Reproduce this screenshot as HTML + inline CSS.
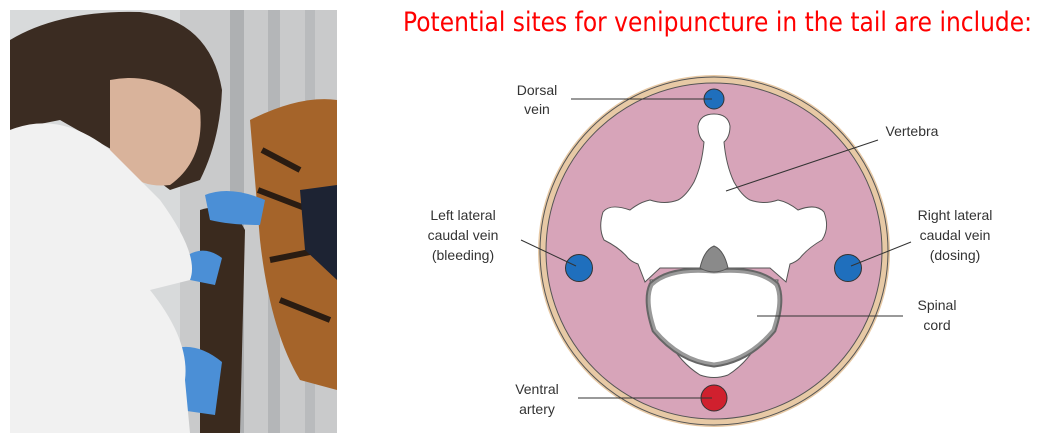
<!DOCTYPE html>
<html><head><meta charset="utf-8"><style>
html,body{margin:0;padding:0;background:#fff;width:1039px;height:441px;overflow:hidden}
</style></head><body>
<svg width="1039" height="441" viewBox="0 0 1039 441" xmlns="http://www.w3.org/2000/svg" font-family="Liberation Sans, sans-serif">
<g>
<rect x="10" y="10" width="327" height="423" fill="#d8dadb"/>
<rect x="180" y="10" width="157" height="423" fill="#c9cacb"/>
<rect x="230" y="10" width="14" height="423" fill="#aeb0b2"/>
<rect x="268" y="10" width="12" height="423" fill="#b4b6b8"/>
<rect x="305" y="10" width="10" height="423" fill="#b9bbbd"/>
<path d="M250 120 Q300 95 337 100 L337 390 L300 380 Q270 330 260 240 Z" fill="#a5642a"/>
<path d="M262 150 L300 170 M258 190 L310 210 M270 260 L320 250 M280 300 L330 320" stroke="#2a1c12" stroke-width="6"/>
<path d="M200 210 Q230 200 245 230 L240 433 L200 433 Z" fill="#3a2a1e"/>
<path d="M300 190 L337 185 L337 280 L305 250 Z" fill="#1d2333"/>
<path d="M205 195 Q230 185 265 200 L260 225 Q230 225 210 220 Z" fill="#4b8fd6"/>
<path d="M188 255 Q205 245 222 258 L215 285 L190 280 Z" fill="#4b8fd6"/>
<path d="M170 350 Q195 340 222 362 L215 415 L180 410 Z" fill="#4b8fd6"/>
<path d="M10 40 Q60 10 140 12 Q210 20 222 90 Q220 140 200 180 L170 190 L130 160 L60 120 L10 130 Z" fill="#3b2c22"/>
<path d="M110 80 Q160 70 200 110 Q205 160 170 185 Q130 190 110 150 Z" fill="#d9b39b"/>
<path d="M10 130 Q60 110 110 150 L160 200 Q200 255 190 280 L150 290 Q190 340 185 380 L190 433 L10 433 Z" fill="#f1f1f1"/>
</g>
<text x="403" y="31" font-size="27" fill="#ff0000" textLength="629" lengthAdjust="spacingAndGlyphs" font-family="DejaVu Sans, sans-serif">Potential sites for venipuncture in the tail are include:</text>
<circle cx="714" cy="251" r="176" fill="#e7c9a5"/>
<circle cx="714" cy="251" r="174" fill="none" stroke="#555" stroke-width="1"/>
<circle cx="714" cy="251" r="168" fill="#d7a4b9" stroke="#555" stroke-width="1"/>
<path d="M650 280 Q660 350 700 375 Q714 380 728 375 Q768 350 778 280 Z" fill="#fff" stroke="#555" stroke-width="1"/>
<path d="M714 114 Q700 114 698 126 Q698 137 704 142 Q702 165 694 182 Q686 196 678 200 Q665 205 650 200 Q640 202 630 210 Q610 203 603 212 Q598 228 604 240 Q620 248 628 258 Q632 262 638 264 L645 282 L660 268 L770 268 L786 282 L790 264 Q796 262 800 258 Q808 248 822 240 Q830 228 824 212 Q816 203 798 210 Q788 202 778 200 Q764 205 750 200 Q742 196 734 182 Q726 165 724 142 Q730 137 730 126 Q728 114 714 114 Z" fill="#fff" stroke="#555" stroke-width="1"/>
<path d="M714 272 Q670 268 652 285 Q645 300 655 330 Q680 360 714 364 Q748 360 773 330 Q783 300 776 285 Q758 268 714 272 Z" fill="#fff" stroke="#666" stroke-width="7"/>
<path d="M714 272 Q670 268 652 285 Q645 300 655 330 Q680 360 714 364 Q748 360 773 330 Q783 300 776 285 Q758 268 714 272 Z" fill="#fff" stroke="#999" stroke-width="3"/>
<path d="M700 268 Q704 250 714 246 Q724 250 728 268 Q714 276 700 268 Z" fill="#8a8a8a" stroke="#555" stroke-width="1"/>
<circle cx="714" cy="99" r="10" fill="#1f6fbd" stroke="#333" stroke-width="1"/>
<circle cx="579" cy="268" r="13.5" fill="#1f6fbd" stroke="#333" stroke-width="1"/>
<circle cx="848" cy="268" r="13.5" fill="#1f6fbd" stroke="#333" stroke-width="1"/>
<circle cx="714" cy="398" r="13" fill="#d0202e" stroke="#333" stroke-width="1"/>
<g stroke="#333" stroke-width="1">
<line x1="571" y1="99" x2="712" y2="99"/>
<line x1="878" y1="140" x2="726" y2="191"/>
<line x1="521" y1="240" x2="576" y2="266"/>
<line x1="911" y1="242" x2="851" y2="266"/>
<line x1="757" y1="316" x2="903" y2="316"/>
<line x1="578" y1="398" x2="712" y2="398"/>
</g>
<g font-size="14" fill="#333" text-anchor="middle">
<text x="537" y="95">Dorsal</text><text x="537" y="114">vein</text>
<text x="912" y="136">Vertebra</text>
<text x="463" y="220">Left lateral</text><text x="463" y="240">caudal vein</text><text x="463" y="260">(bleeding)</text>
<text x="955" y="220">Right lateral</text><text x="955" y="240">caudal vein</text><text x="955" y="260">(dosing)</text>
<text x="937" y="310">Spinal</text><text x="937" y="330">cord</text>
<text x="537" y="394">Ventral</text><text x="537" y="414">artery</text>
</g>
</svg>
</body></html>
